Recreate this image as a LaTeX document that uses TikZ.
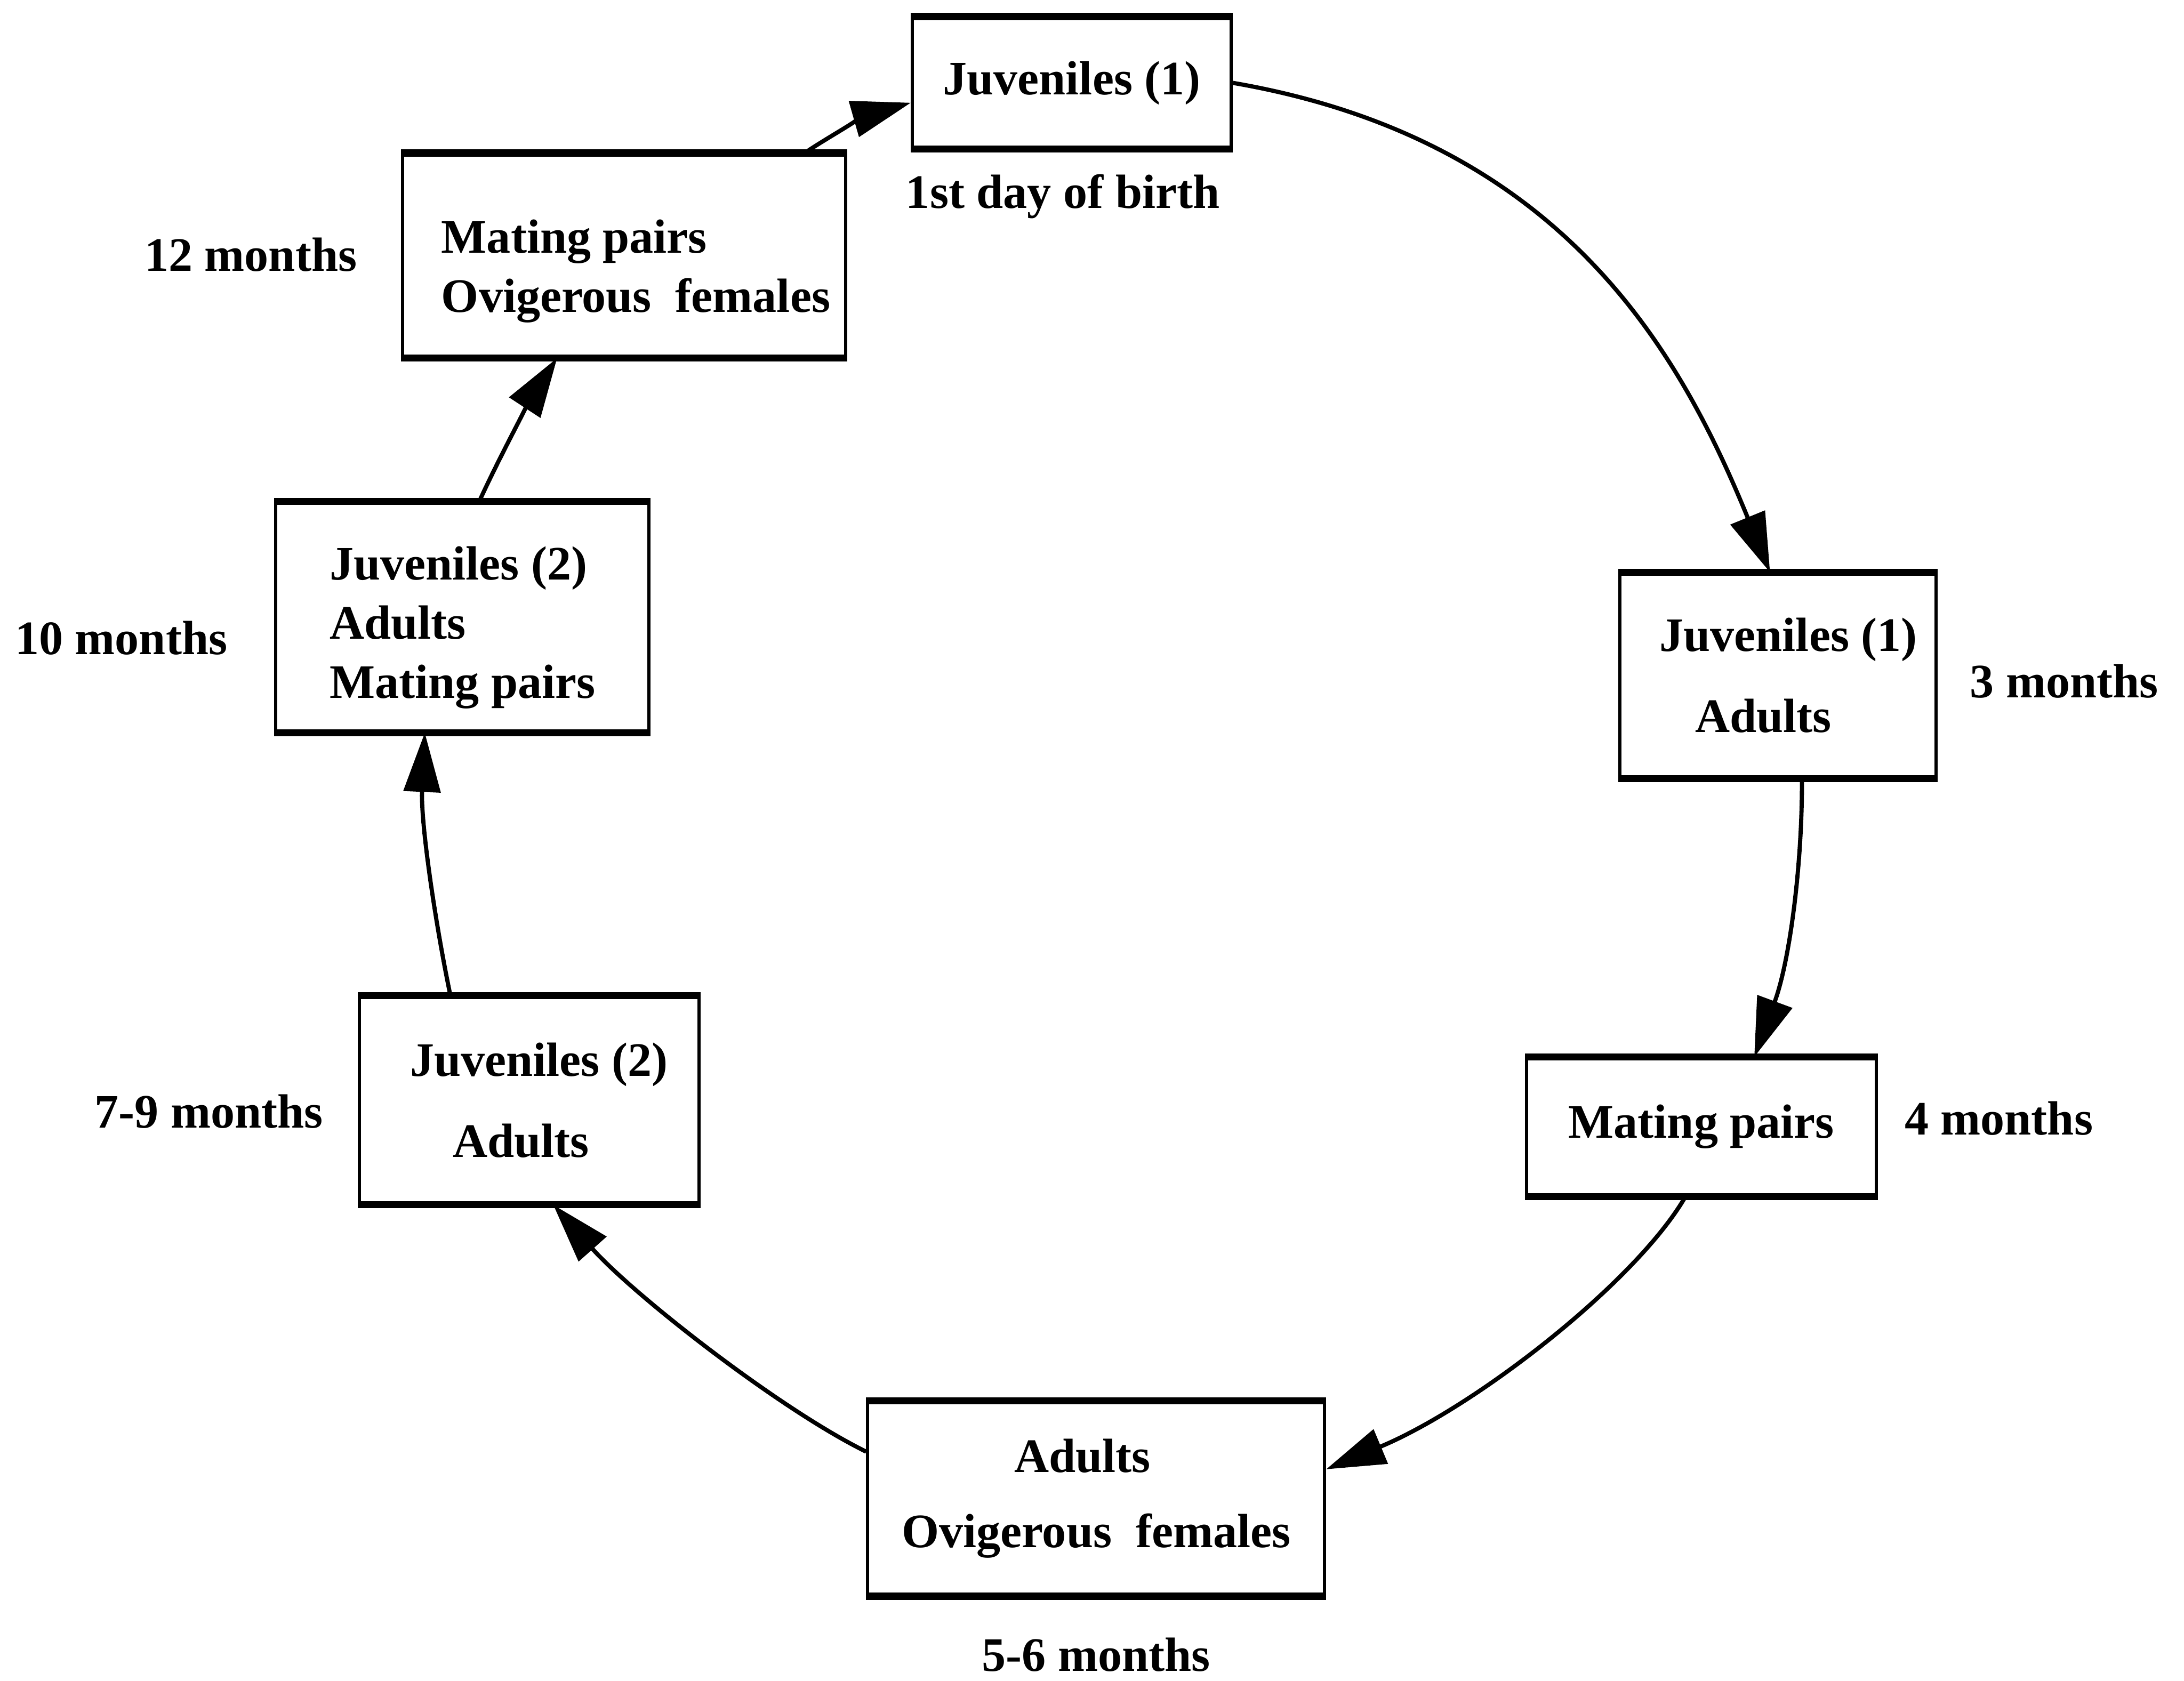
\documentclass[tikz,border=0pt]{standalone}
\usepackage{fontspec}
\setmainfont{Liberation Serif}
\usetikzlibrary{arrows.meta,calc}
\begin{document}
\begin{tikzpicture}[x=0.4pt,y=-0.4pt,
  every node/.style={font=\bfseries\fontsize{13.8}{17}\selectfont},
  stage/.style={draw, line width=0.9pt, inner sep=0pt},
  lbl/.style={inner sep=0pt},
  flow/.style={line width=1.2pt, -{Triangle[length=17pt,width=10.5pt]}}]
\useasboundingbox (0,0) rectangle (1568,1207);

% stages
\node[stage, minimum width=91.6pt, minimum height=37.2pt] (A) at (769.5,59.5) {Juveniles (1)};
\node[stage, minimum width=127.2pt, minimum height=58pt, align=left, text height=35.6pt] (B) at (448,183.5)
  {\hspace*{6.8pt}Mating pairs\\\hspace*{6.8pt}Ovigerous~~females};
\node[stage, minimum width=107.2pt, minimum height=65.6pt, align=left, text height=49.6pt] (C) at (332,443)
  {Juveniles (2)\\Adults\\Mating pairs};
\node[stage, minimum width=97.6pt, minimum height=59.2pt, align=center] (D) at (380,790)
  {\hspace*{5.6pt}Juveniles (2)\\[6.2pt]Adults\hspace*{4.8pt}};
\node[stage, minimum width=131.2pt, minimum height=55.2pt, align=center] (E) at (787,1076)
  {Adults\hspace*{8pt}\\[4.6pt]Ovigerous~~females};
\node[stage, minimum width=100.4pt, minimum height=39.2pt] (F) at (1221.5,809) {Mating pairs};
\node[stage, minimum width=90.8pt, minimum height=58.4pt, align=center] (G) at (1276.5,485)
  {\hspace*{6pt}Juveniles (1)\\[6.2pt]Adults\hspace*{8.4pt}};

\foreach \n in {A,B,C,D,E,F,G}
  \draw[line width=2pt] (\n.north west) -- (\n.north east) (\n.south west) -- (\n.south east);

% time labels
\node[lbl] (tA) at (763,141) {1st day of birth};
\node[lbl] (tB) at (180,183) {12 months};
\node[lbl] (tC) at (87,458) {10 months};
\node[lbl] (tD) at (150,798) {7-9 months};
\node[lbl] (tE) at (787,1188) {5-6 months};
\node[lbl] (tF) at (1435,803) {4 months};
\node[lbl] (tG) at (1482,489) {3 months};

% cycle
\draw[flow] (A.east) .. controls (1120,100) and (1205,250) .. ($(G.north west)!0.475!(G.north east)$);
\draw[flow] ($(G.south west)!0.575!(G.south east)$) .. controls (1294,620) and (1285,690) .. ($(F.north west)!0.65!(F.north east)$);
\draw[flow] ($(F.south west)!0.455!(F.south east)$) .. controls (1175,920) and (1060,1010) .. ($(E.north east)!0.35!(E.south east)$);
\draw[flow] ($(E.north west)!0.26!(E.south west)$) .. controls (560,1012) and (455,930) .. ($(D.south west)!0.57!(D.south east)$);
\draw[flow] ($(D.north west)!0.27!(D.north east)$) .. controls (312,660) and (302,590) .. ($(C.south west)!0.40!(C.south east)$);
\draw[flow] ($(C.north west)!0.545!(C.north east)$) .. controls (360,325) and (385,280) .. ($(B.south west)!0.35!(B.south east)$);
\draw[flow] ($(B.north west)!0.905!(B.north east)$) .. controls (595,98) and (625,82) .. ($(A.north west)!0.65!(A.south west)$);
\end{tikzpicture}
\end{document}
